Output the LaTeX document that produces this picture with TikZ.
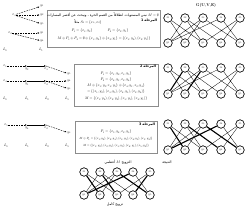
\documentclass[tikz,border=0pt]{standalone}
\usepackage{fontspec}
\usepackage{tikz}
\usetikzlibrary{arrows.meta}
\TeXXeTstate=1
\newfontfamily\arabicfont[Script=Arabic]{DejaVu Sans}
\newcommand{\artx}[1]{{\arabicfont\beginR #1\endR}}
\tikzset{
  vx/.style={draw, circle, line width=2pt, minimum size=25.5bp, inner sep=0pt, fill=white, font=\fontsize{9.6}{10}\selectfont},
  edg/.style={line width=0.9pt},
  medg/.style={line width=3.3pt},
  panel/.style={draw=black!45, line width=1.2pt},
  txt/.style={font=\fontsize{10.5}{12}\selectfont, inner sep=0pt},
  stg/.style={font=\fontsize{10}{12}\selectfont\bfseries, inner sep=0pt, anchor=east},
  alt/.style={dash pattern=on 4.8pt off 3pt, line width=1.2pt, -{Latex[length=6pt,width=4.8pt]}},
  mat/.style={line width=3pt, -{Latex[length=6pt,width=5.4pt]}},
  lbl/.style={font=\fontsize{10.5}{12}\selectfont, inner sep=1.8pt}
}
\begin{document}
\begin{tikzpicture}[x=3bp, y=-3bp]
  \useasboundingbox (0,0) rectangle (250,210);
  % stage 1 tree
  \node[lbl] (r1) at (14,15) {$x_3$};
  \node[lbl] (c11) at (42,6) {$y_1$};
  \node[lbl] (c12) at (42,15) {$y_2$};
  \node[lbl] (c13) at (42,24) {$y_5$};
  \node[lbl] (r2) at (10,33) {$x_2$};
  \node[lbl] (c21) at (42,33) {$y_1$};
  \node[lbl] (c22) at (42,41) {$y_4$};
  \node[lbl] (la0) at (5,50) {$L_0$};
  \node[lbl] (la1) at (41,50) {$L_1$};
  \draw[alt] (r1) -- (c11);
  \draw[alt] (r1) -- (c12);
  \draw[alt] (r1) -- (c13);
  \draw[alt] (r2) -- (c21);
  \draw[alt] (r2) -- (c22);

  % stage 2 tree
  \node[lbl] (s1) at (5,66) {$x_1$};
  \coordinate (u1) at (27,66);
  \coordinate (u2) at (46,66);
  \node[lbl, anchor=north] (u1l) at (27,67.5) {$y_2$};
  \node[lbl, anchor=north] (u2l) at (46,67.5) {$x_3$};
  \node[lbl] (e1) at (69,74) {$y_5$};
  \node[lbl] (s2) at (5,81) {$x_4$};
  \coordinate (w1) at (27,81);
  \coordinate (w2) at (46,81);
  \node[lbl, anchor=north] (w1l) at (27,82.5) {$y_1$};
  \node[lbl, anchor=north] (w2l) at (46,82.5) {$x_2$};
  \node[lbl] (e2) at (69,81) {$y_4$};
  \node[lbl] (e3) at (69,89) {$y_3$};
  \node[lbl] (lb0) at (5,99) {$L_0$};
  \node[lbl] (lb1) at (27,99) {$L_1$};
  \node[lbl] (lb2) at (47,99) {$L_2$};
  \node[lbl] (lb3) at (67,99) {$L_3$};
  \draw[alt] (s1) -- (u1);
  \draw[mat] (u1) -- (u2);
  \draw[alt] (u2) -- (e1);
  \draw[alt] (s2) -- (w1);
  \draw[mat] (w1) -- (w2);
  \draw[alt] (w2) -- (e2);
  \draw[alt] (w2) -- (e3);

  % stage 3 tree
  \node[lbl] (q1) at (6,125) {$x_5$};
  \coordinate (v1) at (27,125);
  \coordinate (v2) at (46,125);
  \node[lbl, anchor=north] (v1l) at (27,126.5) {$y_4$};
  \node[lbl, anchor=north] (v2l) at (46,126.5) {$x_2$};
  \node[lbl] (e4) at (69,133) {$y_3$};
  \node[lbl] (lc0) at (6,146) {$L_0$};
  \node[lbl] (lc1) at (27,146) {$L_1$};
  \node[lbl] (lc2) at (47,146) {$L_2$};
  \node[lbl] (lc3) at (67,146) {$L_3$};
  \draw[alt] (q1) -- (v1);
  \draw[mat] (v1) -- (v2);
  \draw[alt] (v2) -- (e4);

  % boxes
  \draw[panel] (47,10) rectangle (160,47);
  \node[txt] (t11) at (103,15) {\artx{نبني المستويات انطلاقاً من القمم الحرة ، ونبحث عن أقصر المسارات} $M=\emptyset$};
  \node[stg] (t12) at (157,21) {\artx{المرحلة 1}};
  \node[txt] (t13) at (88,22) {\artx{مثلاً} $S_0=\{x_3,x_2\}$};
  \node[txt] (t14) at (82,31) {$P_1=\{x_3,y_2\}$};
  \node[txt] (t15) at (118,31) {$P_2=\{x_2,y_1\}$};
  \node[txt] (t16) at (104,39) {$M\oplus P_1\oplus P_2=\emptyset\oplus\{x_3,y_2\}\oplus\{x_2,y_1\}=\{(x_3,y_2),(x_2,y_1)\}$};

  \draw[panel] (74,64) rectangle (158,106);
  \node[stg] (t21) at (156,67) {\artx{المرحلة 2}};
  \node[txt] (t22) at (116,74) {$P_1=\{x_1,y_2,x_3,y_5\}$};
  \node[txt] (t23) at (116,80) {$P_2=\{x_4,y_1,x_2,y_4\}$};
  \node[txt] (t24) at (116,86) {$M\oplus\{x_1,y_2,x_3,y_5\}\oplus\{x_4,y_1,x_2,y_4\}$};
  \node[txt] (t25) at (116,92) {$=\{(x_1,y_2),(x_3,y_5),(x_4,y_1),(x_2,y_4)\}$};
  \node[txt] (t26) at (116,99) {$M=\{(x_1,y_2),(x_2,y_4),(x_3,y_5),(x_4,y_1)\}$};

  \draw[panel] (75,121) rectangle (157,153);
  \node[stg] (t31) at (155,125) {\artx{المرحلة 3}};
  \node[txt] (t32) at (116,132) {$P_1=\{x_5,y_4,x_2,y_3\}$};
  \node[txt, font=\fontsize{9.4}{11}\selectfont] (t33) at (116,139) {$M\oplus P_1=\{(x_1,y_2),(x_2,y_3),(x_3,y_5),(x_4,y_1),(x_5,y_4)\}$};
  \node[txt, font=\fontsize{9.4}{11}\selectfont] (t34) at (116,146) {$M=\{(x_1,y_2),(x_2,y_3),(x_3,y_5),(x_4,y_1),(x_5,y_4)\}$};

  % graph G
  \node[txt, font=\fontsize{12.5}{14}\selectfont\bfseries] (gt) at (206,5) {G(U,V,E)};
  \node[vx] (a1) at (168,18) {$x_1$}; \node[vx] (a2) at (185,18) {$x_2$}; \node[vx] (a3) at (203,18) {$x_3$}; \node[vx] (a4) at (221,18) {$x_4$}; \node[vx] (a5) at (240,18) {$x_5$};
  \node[vx] (b1) at (168,43) {$y_1$}; \node[vx] (b2) at (185,43) {$y_2$}; \node[vx] (b3) at (203,43) {$y_3$}; \node[vx] (b4) at (221,43) {$y_4$}; \node[vx] (b5) at (240,43) {$y_5$};
  \draw[edg] (a1) -- (b2) (a1) -- (b3) (a2) -- (b1) (a2) -- (b3) (a2) -- (b4) (a3) -- (b1)
             (a3) -- (b2) (a3) -- (b5) (a4) -- (b1) (a4) -- (b5) (a5) -- (b3) (a5) -- (b4);

  \node[vx] (c1) at (168,68) {$x_1$}; \node[vx] (c2) at (185,68) {$x_2$}; \node[vx] (c3) at (203,68) {$x_3$}; \node[vx] (c4) at (221,68) {$x_4$}; \node[vx] (c5) at (240,68) {$x_5$};
  \node[vx] (d1) at (168,94) {$y_1$}; \node[vx] (d2) at (185,94) {$y_2$}; \node[vx] (d3) at (203,94) {$y_3$}; \node[vx] (d4) at (221,94) {$y_4$}; \node[vx] (d5) at (240,94) {$y_5$};
  \draw[edg] (c1) -- (d2) (c1) -- (d3) (c2) -- (d3) (c2) -- (d4) (c3) -- (d1)
             (c3) -- (d5) (c4) -- (d1) (c4) -- (d5) (c5) -- (d3) (c5) -- (d4);
  \draw[medg] (c2) -- (d1) (c3) -- (d2);

  \node[vx] (e1g) at (168,124) {$x_1$}; \node[vx] (e2g) at (185,124) {$x_2$}; \node[vx] (e3g) at (203,124) {$x_3$}; \node[vx] (e4g) at (221,124) {$x_4$}; \node[vx] (e5g) at (240,124) {$x_5$};
  \node[vx] (f1) at (168,150) {$y_1$}; \node[vx] (f2) at (185,150) {$y_2$}; \node[vx] (f3) at (203,150) {$y_3$}; \node[vx] (f4) at (221,150) {$y_4$}; \node[vx] (f5) at (240,150) {$y_5$};
  \draw[edg] (e1g) -- (f3) (e2g) -- (f1) (e2g) -- (f3) (e3g) -- (f1) (e3g) -- (f2)
             (e5g) -- (f3) (e5g) -- (f4) (e4g) -- (f5);
  \draw[medg] (e1g) -- (f2) (e2g) -- (f4) (e3g) -- (f5) (e4g) -- (f1);
  \node[txt] (r3) at (167,162) {\artx{النتيجة}};

  % maximum matching
  \node[txt] (m0) at (118,162) {\artx{أعظمي} $M$ \artx{التزويج}};
  \node[vx] (g1) at (84,172) {$x_1$}; \node[vx] (g2) at (100,172) {$x_2$}; \node[vx] (g3) at (117,172) {$x_3$}; \node[vx] (g4) at (133,172) {$x_4$}; \node[vx] (g5) at (150,172) {$x_5$};
  \node[vx] (h1) at (84,195) {$y_1$}; \node[vx] (h2) at (100,195) {$y_2$}; \node[vx] (h3) at (117,195) {$y_3$}; \node[vx] (h4) at (133,195) {$y_4$}; \node[vx] (h5) at (150,195) {$y_5$};
  \draw[edg] (g1) -- (h3) (g2) -- (h1) (g2) -- (h4) (g3) -- (h1) (g3) -- (h2)
             (g4) -- (h5) (g5) -- (h3);
  \draw[medg] (g1) -- (h2) (g2) -- (h3) (g3) -- (h5) (g4) -- (h1) (g5) -- (h4);
  \node[txt] (m1) at (115,205) {\artx{تزويج كامل}};
\end{tikzpicture}
\end{document}
